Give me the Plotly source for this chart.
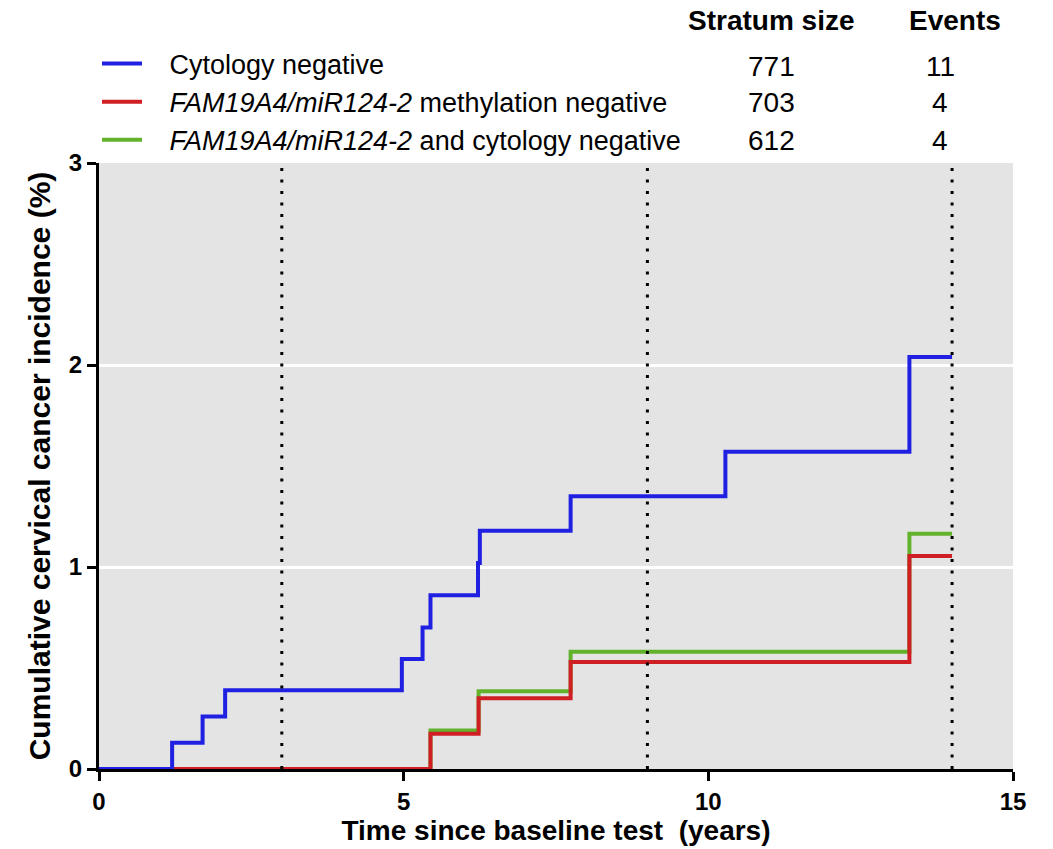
import plotly.graph_objects as go

# ---- data ----
blue_t = [0, 1.20, 1.70, 2.07, 4.97, 5.31, 5.44, 6.22, 6.25, 7.74, 10.28, 13.30, 14.0]
blue_y = [0, 0.13, 0.26, 0.39, 0.545, 0.70, 0.86, 1.02, 1.18, 1.35, 1.57, 2.04, 2.04]
red_t = [0, 5.44, 6.23, 7.74, 13.30, 14.0]
red_y = [0, 0.175, 0.35, 0.53, 1.055, 1.055]
green_t = [0, 5.44, 6.23, 7.74, 13.30, 14.0]
green_y = [0, 0.19, 0.385, 0.58, 1.165, 1.165]

names = ["Cytology negative",
         "<i>FAM19A4/miR124-2</i> methylation negative",
         "<i>FAM19A4/miR124-2</i> and cytology negative"]
stratum_size = ["771", "703", "612"]
events = ["11", "4", "4"]
landmarks = [3, 9, 14]
x_ticks = [0, 5, 10, 15]
y_ticks = [0, 1, 2, 3]

BLUE = "#2020e2"
RED = "#d01f24"
GREEN = "#62b22c"
FONT = "Liberation Sans, Arial, sans-serif"
PAD = "\u00a0\u00a0\u00a0"

W, H = 1053, 849
L, R, T, B = 99, 40, 163, 80
pw, ph = W - L - R, H - T - B


def xpaper(px):
    return (px - L) / pw


def ypaper(py):
    return (H - B - py) / ph


fig = go.Figure()
# draw order: green, red, blue (blue on top)
fig.add_trace(go.Scatter(x=green_t, y=green_y, mode="lines", line=dict(shape="hv", color=GREEN, width=4),
                         name=PAD + names[2], legendrank=3, legendgroup="g"))
fig.add_trace(go.Scatter(x=red_t, y=red_y, mode="lines", line=dict(shape="hv", color=RED, width=4),
                         name=PAD + names[1], legendrank=2, legendgroup="r"))
fig.add_trace(go.Scatter(x=blue_t, y=blue_y, mode="lines", line=dict(shape="hv", color=BLUE, width=4),
                         name=PAD + names[0], legendrank=1, legendgroup="b"))

for lm in landmarks:
    fig.add_shape(type="line", x0=lm, x1=lm, xref="x", y0=0, y1=1, yref="paper",
                  line=dict(color="black", width=3, dash="3px,8.5px"), layer="above")

# table columns
row_y = [66, 103, 140]
TF = dict(size=28, color="black", family=FONT)
fig.add_annotation(text="<b>Stratum size</b>", x=xpaper(771), y=ypaper(20), xref="paper", yref="paper",
                   showarrow=False, font=TF, xanchor="center", yanchor="middle")
fig.add_annotation(text="<b>Events</b>", x=xpaper(955), y=ypaper(20), xref="paper", yref="paper",
                   showarrow=False, font=TF, xanchor="center", yanchor="middle")
for i in range(3):
    fig.add_annotation(text=stratum_size[i], x=xpaper(771), y=ypaper(row_y[i]), xref="paper", yref="paper",
                       showarrow=False, font=TF, xanchor="center", yanchor="middle")
    fig.add_annotation(text=events[i], x=xpaper(940), y=ypaper(row_y[i]), xref="paper", yref="paper",
                       showarrow=False, font=TF, xanchor="center", yanchor="middle")

fig.update_layout(
    width=W, height=H,
    margin=dict(l=L, r=R, t=T, b=B),
    paper_bgcolor="white",
    plot_bgcolor="#e4e4e4",
    font=dict(family=FONT, color="black"),
    showlegend=True,
    legend=dict(x=xpaper(97), y=ypaper(39.5), xanchor="left", yanchor="top",
                bgcolor="rgba(0,0,0,0)", font=dict(size=27, family=FONT, color="black"),
                tracegroupgap=0, traceorder="grouped", itemwidth=40),
    xaxis=dict(range=[0, 15], tickvals=x_ticks, ticktext=[f"<b>{v}</b>" for v in x_ticks],
               showgrid=False, zeroline=False, showline=True, linecolor="black", linewidth=3,
               ticks="outside", ticklen=9, tickwidth=3, tickcolor="black",
               tickfont=dict(size=24, family=FONT, color="black"),
               title=dict(text="<b>Time since baseline test  (years)</b>",
                          font=dict(size=28, family=FONT, color="black"), standoff=1)),
    yaxis=dict(range=[0, 3], tickvals=y_ticks, ticktext=[f"<b>{v}</b>" for v in y_ticks],
               showgrid=True, gridcolor="white", gridwidth=3, zeroline=False,
               showline=True, linecolor="black", linewidth=3,
               ticks="outside", ticklen=9, tickwidth=3, tickcolor="black",
               tickfont=dict(size=24, family=FONT, color="black"),
               title=dict(text="<b>Cumulative cervical cancer incidence (%)</b>",
                          font=dict(size=30, family=FONT, color="black"), standoff=10)),
)

fig.write_html("out.html")
